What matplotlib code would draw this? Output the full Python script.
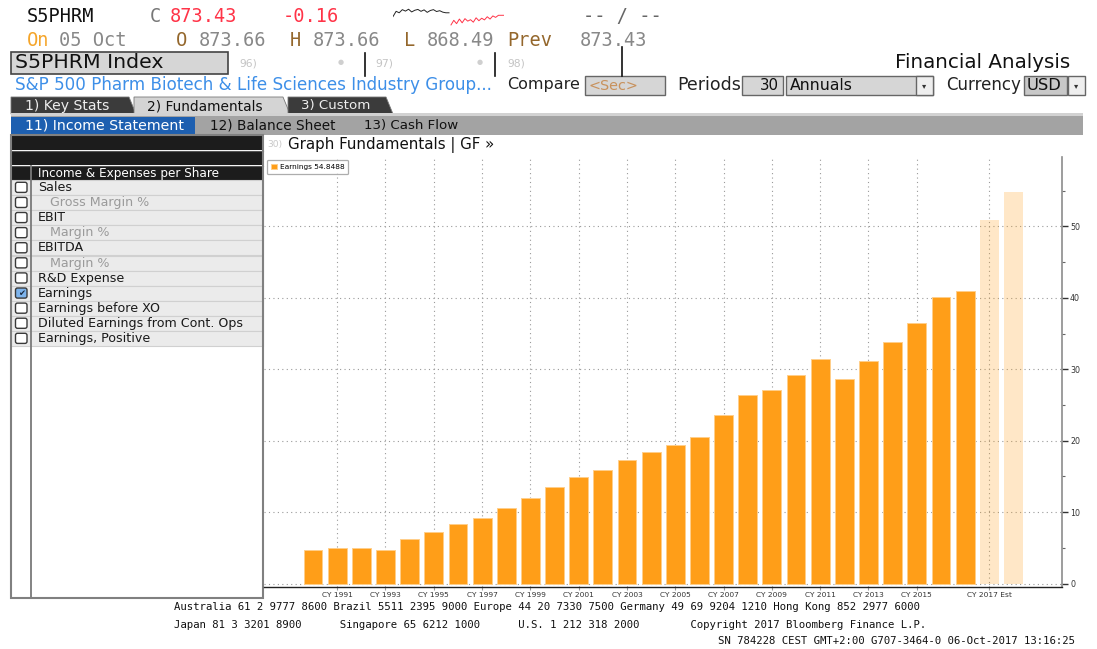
import matplotlib
matplotlib.use('Agg')
import matplotlib.pyplot as plt
from matplotlib.patches import Rectangle, Polygon, FancyBboxPatch
import numpy as np

W, H = 1097, 649

# ---- data ----
earnings = [4.64, 4.92, 5.01, 4.73, 6.27, 7.25, 8.32, 9.25, 10.64, 11.95,
            13.50, 14.97, 15.86, 17.26, 18.42, 19.44, 20.47, 23.59, 26.42, 27.04,
            29.20, 31.50, 28.57, 31.17, 33.85, 36.50, 40.15, 40.98, 50.88, 54.8488]
n_est = 2
tick_years = list(range(1991, 2016, 2))
tick_labels = ['CY %d' % y for y in tick_years] + ['CY 2017 Est']
tick_pos = [y - 1990 for y in tick_years] + [28]
y_ticks = [0, 10, 20, 30, 40, 50]

menu_items = ['Sales', 'Gross Margin %', 'EBIT', 'Margin %', 'EBITDA', 'Margin %',
              'R&D Expense', 'Earnings', 'Earnings before XO',
              'Diluted Earnings from Cont. Ops', 'Earnings, Positive']
menu_indent = [0, 1, 0, 1, 0, 1, 0, 0, 0, 0, 0]
menu_checked = [0, 0, 0, 0, 0, 0, 0, 1, 0, 0, 0]

spark_prev = [873.0, 875.5, 874.8, 876.3, 875.6, 876.5, 875.2, 876.0, 876.4, 875.5,
              876.2, 875.0, 875.9, 876.3, 875.4, 875.8, 875.1, 874.8, 874.8]
spark_today = [869.0, 871.2, 869.6, 871.8, 870.0, 872.0, 870.8, 871.5, 870.3, 872.4,
               871.0, 872.2, 871.4, 872.9, 871.8, 873.3, 872.6, 873.6, 873.6, 873.6]

ORANGE = '#ff9e18'
MONO = 'DejaVu Sans Mono'

fig = plt.figure(figsize=(W / 100, H / 100), dpi=100)
fig.patch.set_facecolor('white')
bg = fig.add_axes([0, 0, 1, 1])
bg.set_xlim(0, W)
bg.set_ylim(H, 0)
bg.axis('off')
r = fig.canvas.get_renderer()


def txt(x, y, s, w=None, size=10, **kw):
    kw.setdefault('va', 'center')
    t = bg.text(x, y, s, fontsize=size, **kw)
    if w is not None:
        t.set_fontsize(size * w / t.get_window_extent(r).width)
    return t


def box(x0, y0, x1, y1, fc, ec='none', lw=1.0, z=1):
    bg.add_patch(Rectangle((x0, y0), x1 - x0, y1 - y0, fc=fc, ec=ec, lw=lw, zorder=z))


# ---- header rows ----
hs = 13.4
txt(27, 17, 'S5PHRM', size=hs, family=MONO, color='#111')
txt(150, 17, 'C', size=hs, family=MONO, color='#777')
txt(170, 17, '873.43', size=hs, family=MONO, color='#ff3448')
txt(283, 17, '-0.16', size=hs, family=MONO, color='#ff3448')
txt(583, 17, '-- / --', size=hs, family=MONO, color='#666')

txt(27, 40, 'On', size=hs, family=MONO, color='#f5a52a')
txt(59, 40, '05 Oct', size=hs, family=MONO, color='#888')
for x, lab, val in [(176, 'O', '873.66'), (290, 'H', '873.66'), (404, 'L', '868.49')]:
    txt(x, 40, lab, size=hs, family=MONO, color='#94672c')
    txt(x + 23, 40, val, size=hs, family=MONO, color='#888')
txt(507, 40, 'Prev', size=hs, family=MONO, color='#94672c')
txt(580, 40, '873.43', size=hs, family=MONO, color='#888')

sp = fig.add_axes([393 / W, 1 - 27 / H, 111 / W, 23 / H])
sp.plot(np.linspace(0, 56, len(spark_prev)), spark_prev, color='#222', lw=0.7)
sp.plot(np.linspace(58, 111, len(spark_today)), spark_today, color='#ff3448', lw=0.7)
sp.set_xlim(0, 111)
sp.set_ylim(868, 879)
sp.axis('off')

box(11, 52, 228, 74, '#d6d6d6', '#444', 1.2)
txt(15, 63, 'S5PHRM Index', w=148, color='#111')
for x, s in [(239, '96)'), (375, '97)'), (507, '98)')]:
    txt(x, 63, s, w=18, color='#c4c4c4')
for x in [341, 480]:
    txt(x, 62, '\u25cf', size=5, color='#cfcfcf', ha='center')
for x, y0 in [(365, 53), (495, 53), (622, 47)]:
    bg.plot([x, x], [y0, 76], color='#111', lw=1.2)
txt(1070, 63, 'Financial Analysis', w=175, color='#111', ha='right')

txt(15, 85, 'S&P 500 Pharm Biotech & Life Sciences Industry Group...', w=476, color='#3d8fe8')
txt(507, 85, 'Compare', w=73, color='#222')
box(585, 76, 665, 95, '#d6d6d6', '#666', 1.0)
txt(589, 85.5, '<Sec>', w=50, color='#c8915c')
txt(677, 85, 'Periods', w=63, color='#222')
box(742, 76, 783, 95, '#d6d6d6', '#666', 1.0)
txt(779, 85.5, '30', w=19, color='#111', ha='right')
box(786, 76, 933, 95, '#d6d6d6', '#666', 1.0)
box(916, 76, 933, 95, '#eeeeee', '#666', 1.0)
txt(790, 85.5, 'Annuals', w=63, color='#111')
txt(924.5, 86, '\u25be', size=6, color='#333', ha='center')
txt(946, 85, 'Currency', w=75, color='#222')
box(1024, 76, 1067, 95, '#c8c8c8', '#666', 1.0)
box(1068, 76, 1085, 95, '#eeeeee', '#666', 1.0)
txt(1027, 85.5, 'USD', w=35, color='#111')
txt(1076.5, 86, '\u25be', size=6, color='#333', ha='center')

# tabs
tabs = [(11, 136, '#3b3b3b', '1) Key Stats', 25, 84, '#eeeeee'),
        (134, 290, '#d4d4d4', '2) Fundamentals', 147, 116, '#111'),
        (288, 393, '#3b3b3b', '3) Custom', 301, 69, '#eeeeee')]
for x0, x1, fc, s, tx, tw, tc in tabs:
    bg.add_patch(Polygon([(x0, 114), (x0, 97), (x1 - 7, 97), (x1, 114)], closed=True,
                         fc=fc, ec='#777', lw=0.6))
    txt(tx, 106, s, w=tw, color=tc)

box(11, 113, 1083, 116, '#d2d2d2')
box(11, 116, 1083, 135, '#a3a3a3')
box(11, 117, 195, 134, '#1d5fb0')
txt(25, 125.5, '11) Income Statement', w=158, color='white')
txt(210, 125.5, '12) Balance Sheet', w=125, color='#111')
txt(364, 125.5, '13) Cash Flow', w=94, color='#111')

# ---- left panel ----
box(11, 135, 263, 598, 'white')
box(11, 135, 263, 150, '#1c1c1c')
box(11, 151, 263, 165, '#1c1c1c')
box(11, 166, 263, 180, '#1c1c1c')
bg.plot([11, 263], [150.5, 150.5], color='#555', lw=0.8)
bg.plot([11, 263], [165.5, 165.5], color='#555', lw=0.8)
txt(38, 173, 'Income & Expenses per Share', w=180, color='white')

row_h = 15.1
t = txt(38, 0, 'Diluted Earnings from Cont. Ops', w=203)
fs_items = t.get_fontsize()
t.remove()
for i, (s, ind, chk) in enumerate(zip(menu_items, menu_indent, menu_checked)):
    y0 = 180 + i * row_h
    box(11, y0, 263, y0 + row_h, '#ebebeb', '#d0d0d0', 0.8)
    cb = FancyBboxPatch((15.5, y0 + 2.3), 11.5, row_h - 5, boxstyle='round,pad=0,rounding_size=2',
                        fc='#7eb4ec' if chk else 'white', ec='#3a3a3a', lw=1.0, zorder=3)
    bg.add_patch(cb)
    if chk:
        txt(21.2, y0 + row_h / 2, '\u2714', size=6, color='#1a2a40', ha='center', zorder=4)
    txt(50 if ind else 38, y0 + row_h / 2, s, size=fs_items,
        color='#9a9a9a' if ind else '#1a1a1a')
bg.plot([31, 31], [166, 598], color='#7a7a7a', lw=1.3)
box(11, 135, 263, 598, 'none', '#808080', 1.5, z=5)

# chart header
txt(267, 145, '30)', w=15, color='#c8c8c8')
txt(288, 145, 'Graph Fundamentals | GF \u00bb', w=205, color='#111')

# ---- chart ----
ax = fig.add_axes([264 / W, (H - 586.7) / H, (1061.7 - 264) / W, (586.7 - 157) / H])
ax.set_facecolor('none')
x = np.arange(len(earnings))
n_act = len(earnings) - n_est
b1 = ax.bar(x[:n_act], earnings[:n_act], width=0.78, color=ORANGE,
            edgecolor='#ffcf8a', linewidth=0.7, zorder=2)
ax.bar(x[n_act:], earnings[n_act:], width=0.78, color=ORANGE, alpha=0.24,
       edgecolor='none', zorder=2)
ax.set_xlim(-2.03, 31.0)
ax.set_ylim(-0.43, 59.7)

ax.set_xticks(tick_pos)
ax.set_xticklabels(tick_labels)
ax.set_yticks(y_ticks)
ax.set_yticks(np.arange(5, 60, 10), minor=True)
ax.yaxis.tick_right()
ax.grid(True, which='major', color='#9a9a9a', linestyle=(0, (1, 3)), linewidth=0.8)
ax.set_axisbelow(True)
ax.tick_params(axis='x', length=2.5, color='#999', labelsize=5.4, labelcolor='#333', pad=1.5)
ax.tick_params(axis='y', which='major', direction='out', length=4, width=1, color='#333',
               labelsize=5.7, labelcolor='#333', pad=2)
ax.tick_params(axis='y', which='minor', direction='out', length=2, width=0.8, color='#666')
for side in ['top', 'left']:
    ax.spines[side].set_visible(False)
ax.spines['bottom'].set_color('#222')
ax.spines['bottom'].set_linewidth(1.0)
ax.spines['right'].set_color('#8c8c8c')
ax.spines['right'].set_linewidth(1.2)

leg = ax.legend([b1], ['Earnings %.4f' % earnings[-1]], loc='upper left',
                bbox_to_anchor=(267 / W, 1 - 160 / H), bbox_transform=fig.transFigure,
                fontsize=5.3, frameon=True, fancybox=True, edgecolor='#999',
                handlelength=0.75, handleheight=0.75, handletextpad=0.4,
                borderpad=0.55, borderaxespad=0)
leg.get_frame().set_linewidth(0.9)

# ---- footer ----
fs_foot = 7.65
txt(174, 607, 'Australia 61 2 9777 8600 Brazil 5511 2395 9000 Europe 44 20 7330 7500 '
    'Germany 49 69 9204 1210 Hong Kong 852 2977 6000', size=fs_foot, family=MONO, color='#111')
txt(174, 625, 'Japan 81 3 3201 8900      Singapore 65 6212 1000      U.S. 1 212 318 2000'
    '        Copyright 2017 Bloomberg Finance L.P.', size=fs_foot, family=MONO, color='#111')
txt(1075, 641, 'SN 784228 CEST GMT+2:00 G707-3464-0 06-Oct-2017 13:16:25',
    size=fs_foot, family=MONO, color='#111', ha='right')

fig.savefig('out.png', dpi=100)
